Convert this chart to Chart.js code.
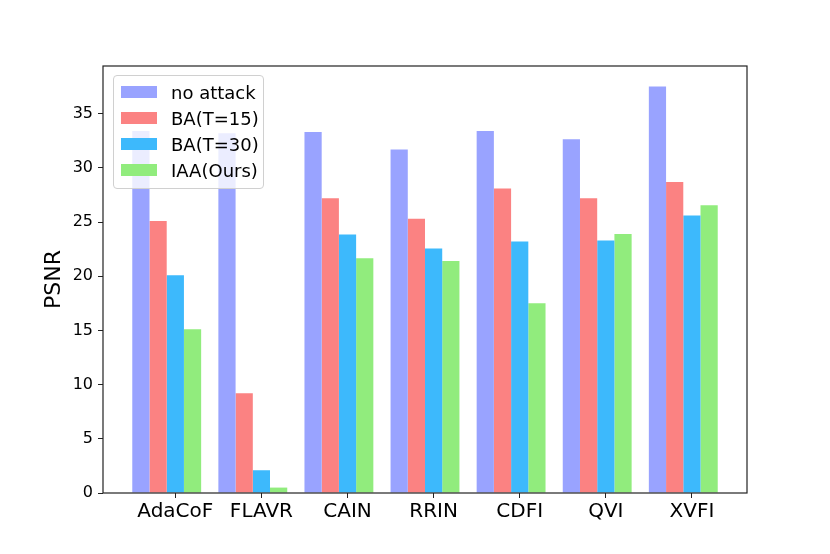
<!DOCTYPE html>
<html>
<head>
<meta charset="utf-8">
<script src="https://cdn.jsdelivr.net/npm/chart.js@4.4.1/dist/chart.umd.min.js"></script>
<style>
	body { margin: 0; background: #fff; }
	#wrap { position: relative; width: 830px; height: 554px; }
	#legend {
		position: absolute; left: 113px; top: 75px; width: 149px;
		padding: 3px 0 5px 0;
		background: rgba(255, 255, 255, 0.8);
		border: 1px solid #d0d0d0; border-radius: 4px;
		font-family: "DejaVu Sans", sans-serif; font-size: 18px; color: #000;
	}
	.legend-row { display: flex; align-items: center; height: 26px; }
	.legend-swatch { width: 36px; height: 12px; margin-left: 7px; margin-right: 14px; }
</style>
</head>
<body>
<div id="wrap">
	<canvas id="psnrChart"></canvas>
	<div id="legend"></div>
</div>
<script>
const methods = ["AdaCoF", "FLAVR", "CAIN", "RRIN", "CDFI", "QVI", "XVFI"];
const noAttack = [33.4, 33.2, 33.3, 31.7, 33.4, 32.65, 37.5];
const ba15 = [25.1, 9.2, 27.2, 25.3, 28.1, 27.2, 28.7];
const ba30 = [20.1, 2.1, 23.85, 22.55, 23.2, 23.3, 25.6];
const iaa = [15.1, 0.5, 21.65, 21.4, 17.5, 23.9, 26.55];
const seriesNames = ["no attack", "BA(T=15)", "BA(T=30)", "IAA(Ours)"];
const seriesColors = ["#99a3ff", "#fb8282", "#3db9fc", "#91ec7d"];
const yTicks = [0, 5, 10, 15, 20, 25, 30, 35];

const allSeries = [noAttack, ba15, ba30, iaa];

// matplotlib-style layout: ticks sit under the third bar of each group
const datasets = allSeries.map((values, s) => ({
	label: seriesNames[s],
	data: values.map((v, i) => ({ x: i - 0.1, y: v })),
	backgroundColor: seriesColors[s],
	borderWidth: 0,
	categoryPercentage: 0.8,
	barPercentage: 1.0,
}));

// plot frame drawn on top of the bars
const framePlugin = {
	id: "frame",
	afterDatasetsDraw(chart) {
		const { ctx, chartArea } = chart;
		ctx.save();
		ctx.strokeStyle = "#222";
		ctx.lineWidth = 1.2;
		ctx.strokeRect(chartArea.left, chartArea.top, chartArea.right - chartArea.left, chartArea.bottom - chartArea.top);
		ctx.restore();
	},
};

const ctx = document.getElementById("psnrChart").getContext("2d");
const chart = new Chart(ctx, {
	type: "bar",
	data: { datasets: datasets },
	options: {
		responsive: true,
		maintainAspectRatio: false,
		animation: false,
		layout: { padding: { left: 0, right: 83, top: 66, bottom: 0 } },
		plugins: {
			legend: { display: false },
			tooltip: { enabled: false },
		},
		scales: {
			x: {
				type: "linear",
				min: -0.84,
				max: 6.64,
				offset: false,
				border: { display: false },
				grid: { offset: false, drawOnChartArea: false, drawTicks: true, tickLength: 5, color: "#222" },
				afterBuildTicks: (axis) => {
					axis.ticks = methods.map((_, i) => ({ value: i }));
				},
				ticks: {
					autoSkip: false,
					maxRotation: 0,
					padding: 2,
					color: "#000",
					font: { family: "DejaVu Sans", size: 20 },
					callback: (value) => methods[value],
				},
				afterFit: (scale) => { scale.height = 61; },
			},
			y: {
				min: 0,
				max: 39.4,
				border: { display: false },
				grid: { drawOnChartArea: false, drawTicks: true, tickLength: 5, color: "#222" },
				afterBuildTicks: (axis) => {
					axis.ticks = yTicks.map((v) => ({ value: v }));
				},
				ticks: {
					padding: 5,
					color: "#000",
					font: { family: "DejaVu Sans", size: 16 },
				},
				title: {
					display: true,
					text: "PSNR",
					color: "#000",
					font: { family: "DejaVu Sans", size: 22 },
					padding: { top: 41, bottom: 0 },
				},
				afterFit: (scale) => { scale.width = 103; },
			},
		},
	},
	plugins: [framePlugin],
});

// legend inside the plot, like matplotlib's upper-left legend
const legend = document.getElementById("legend");
seriesNames.forEach((name, s) => {
	const row = document.createElement("div");
	row.className = "legend-row";
	const swatch = document.createElement("span");
	swatch.className = "legend-swatch";
	swatch.style.background = seriesColors[s];
	row.appendChild(swatch);
	row.appendChild(document.createTextNode(name));
	legend.appendChild(row);
});
</script>
</body>
</html>
